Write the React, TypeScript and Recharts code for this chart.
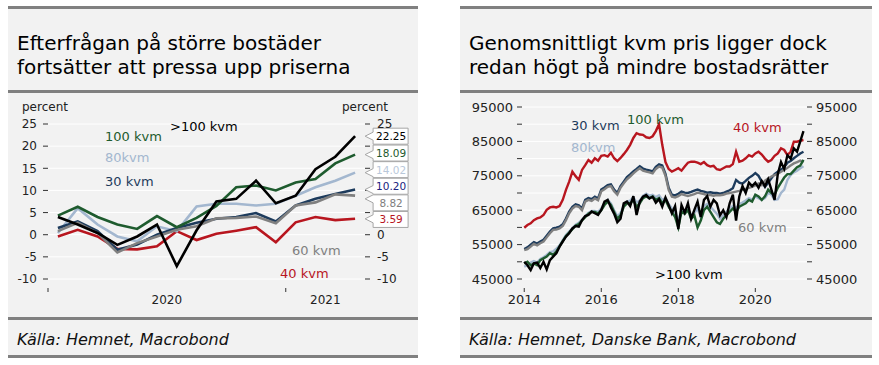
import React from 'react';
import { LineChart, Line, XAxis, YAxis, CartesianGrid, ReferenceDot } from 'recharts';

const FONT = '"DejaVu Sans", Verdana, sans-serif';

const NAVY = '#1d3b5c';
const LIGHT = '#a3b7cf';
const GREEN = '#1e5b2e';
const BLACK = '#000000';
const GRAY = '#808080';
const RED = '#b8161f';

// ---- vänster: årlig förändring, procent (jan 2020 - apr 2021)
const leftMonths = [
  '2020-01', '2020-02', '2020-03', '2020-04', '2020-05', '2020-06', '2020-07', '2020-08',
  '2020-09', '2020-10', '2020-11', '2020-12', '2021-01', '2021-02', '2021-03', '2021-04',
];
const yoy30 = [1.5, 3.0, 0.8, -3.4, -2.2, 0.0, 1.5, 2.7, 3.6, 4.0, 4.9, 3.0, 6.6, 8.1, 9.2, 10.2];
const yoy40 = [-0.4, 1.1, -0.4, -3.2, -3.3, -2.6, 0.8, -1.2, 0.2, 0.9, 1.7, -1.7, 2.8, 4.0, 3.3, 3.59];
const yoy60 = [0.8, 2.7, 0.4, -4.0, -1.9, -0.4, 1.1, 1.9, 3.7, 3.8, 4.1, 2.6, 6.6, 7.3, 9.1, 8.82];
const yoy80 = [0.4, 6.0, 2.3, -0.4, -1.5, 1.9, 0.8, 6.4, 7.0, 7.0, 6.6, 7.0, 8.8, 10.7, 12.2, 14.02];
const yoy100 = [4.3, 6.3, 4.0, 2.3, 1.3, 4.2, 1.7, 3.8, 6.5, 10.7, 11.1, 10.0, 11.8, 12.6, 16.1, 18.09];
const yoyOver100 = [4.0, 2.3, 0.4, -2.3, -0.4, 2.3, -7.1, 1.0, 7.5, 8.1, 12.2, 7.1, 8.8, 14.8, 17.6, 22.25];
const leftYTicks = [-10, -5, 0, 5, 10, 15, 20, 25];
const leftYearBreaks = [-0.5, 11.5];
const leftYearLabelPos = [5.5, 13.5];
const leftYearLabels = ['2020', '2021'];

// ---- höger: kr per kvm, månadsdata jan 2014 - apr 2021
const price40 = [
  59900, 60700, 61200, 62100, 62600, 62900, 63600, 65100, 65800, 66000, 65800, 66200,
  68000, 70900, 73300, 76200, 74900, 73800, 76700, 78100, 79600, 78800, 80100, 79400,
  80800, 81000, 80600, 81700, 80100, 79300, 80200, 81300, 82500, 84000, 86000, 87400,
  87000, 86900, 86200, 86000, 86500, 88000, 90000, 84000, 79000, 77000, 76200, 76700,
  77200, 76500, 77700, 78800, 79100, 79100, 78800, 78400, 79000, 78100, 77700, 77900,
  76900, 76700, 77200, 77700, 77700, 78400, 82000, 79100, 79400, 80100, 81000, 80600,
  81500, 82000, 81200, 80000, 79100, 79600, 80800, 81500, 83000, 82500, 81000, 82000,
  84900, 84900, 85200, 85400,
];
const price30 = [
  53700, 54200, 55000, 55700, 55300, 55900, 56400, 57600, 58800, 59700, 59900, 60200,
  60900, 62600, 64600, 66000, 66700, 66400, 65500, 68000, 68500, 68200, 68900, 68400,
  71000, 71600, 72300, 72500, 71000, 70000, 72000, 73300, 74600, 75400, 76300, 77000,
  77800, 77100, 76800, 76600, 76300, 77600, 78300, 78000, 75600, 71500, 69500, 69300,
  69800, 70400, 70100, 70000, 70300, 70700, 71000, 70600, 70400, 70100, 70200, 70000,
  70000, 69800, 70000, 70400, 70800, 71400, 73800, 73000, 72700, 73500, 74400, 75000,
  75800, 75000, 73300, 71800, 73000, 74300, 75500, 76200, 76800, 77500, 78800, 79300,
  80100, 80800, 81500, 82000,
];
const price60 = [
  53400, 53700, 54400, 55200, 54800, 55400, 55900, 57100, 58300, 59300, 59400, 59700,
  60400, 62100, 64100, 65500, 66200, 66000, 65000, 67500, 68000, 67700, 68400, 67900,
  70500, 71100, 71800, 72000, 70500, 69500, 71500, 72800, 74000, 74800, 75700, 76500,
  77200, 76500, 76200, 76000, 75700, 77000, 77700, 77400, 75000, 70900, 68900, 68700,
  69100, 69700, 69400, 69100, 69400, 69700, 70100, 69900, 69700, 69400, 69400, 69200,
  69400, 69300, 69500, 69800, 70000, 70200, 70400, 70600, 70900, 71200, 71500, 71800,
  72200, 72800, 72300, 73600, 74200, 74800, 75200, 75600, 76200, 76700, 77300, 78000,
  78600, 79000, 79400, 79000,
];
const price80 = [
  48600, 49000, 49800, 50200, 49800, 50800, 51300, 52000, 52800, 53000, 53800, 54800,
  56300, 57800, 58800, 59800, 60800, 61300, 62300, 63300, 64200, 64800, 64800, 64500,
  65500, 67000, 68000, 67000, 65000, 63200, 64200, 66500, 67500, 67800, 68800, 67200,
  67800, 69200, 69800, 69200, 69500, 68800, 69300, 68000, 68500, 66800, 65500, 64500,
  62000, 65000, 64800, 65500, 63500, 64200, 65500, 63000, 66200, 66800, 66000, 65000,
  64000, 62500, 63500, 64500, 65500, 66200, 65500, 66800, 67200, 67800, 68500, 68000,
  69000, 68500, 68000, 68500, 70000, 69500, 68000, 68200, 70000, 71000, 73800, 75200,
  76000, 76500, 77200, 77800,
];
const price100 = [
  49500, 50000, 49000, 49500, 49000, 50500, 51000, 51500, 52500, 52000, 53000, 54500,
  56000, 57500, 58500, 59500, 60500, 61000, 62000, 63000, 64000, 64500, 64500, 64000,
  65000, 66500, 67500, 66500, 64500, 62500, 63500, 66000, 67000, 67000, 68000, 66000,
  67000, 68500, 69000, 68500, 69000, 68000, 68500, 67000, 68000, 66000, 64500, 63000,
  60000, 64500, 64000, 65000, 62500, 63500, 60000, 62000, 65000, 66000, 64500, 63000,
  61500, 61000, 62500, 63500, 64500, 65500, 64500, 66000, 66500, 67000, 68000, 67500,
  69500, 69000, 68000, 69000, 71000, 70000, 69500, 71500, 73000, 74500, 75500, 75500,
  76500, 77500, 78000, 79600,
];
const priceOver100 = [
  50000, 49000, 47600, 49600, 49800, 48200, 50000, 47800, 50500, 51500, 52500, 54400,
  55900, 57300, 58300, 59700, 60400, 60200, 62100, 63300, 63600, 64600, 64100, 63600,
  65100, 67500, 68000, 65800, 64000, 61500, 62500, 67000, 67500, 66200, 69100, 63600,
  67500, 68900, 69400, 68400, 68900, 67200, 68200, 66000, 68700, 66500, 64100, 66200,
  59500, 66500, 64300, 67000, 62500, 65100, 67500, 63000, 68000, 69100, 66000, 68000,
  67000, 63500, 65000, 63000, 67000, 69500, 62000, 69000, 72000, 70000, 73000, 72000,
  73000, 71500, 73500, 72000, 74000, 71000, 68000, 75500, 79000, 77000, 81000, 80000,
  83000, 82000, 85000, 88000,
];
const rightYTicks = [45000, 50000, 55000, 60000, 65000, 70000, 75000, 80000, 85000, 90000, 95000];
const rightYearTicks = [0, 24, 48, 72];
const rightYearLabels = ['2014', '2016', '2018', '2020'];

const leftRows = leftMonths.map((m, i) => ({
  i, month: m,
  k30: yoy30[i], k40: yoy40[i], k60: yoy60[i], k80: yoy80[i], k100: yoy100[i], kOver: yoyOver100[i],
}));
const rightRows = price40.map((_, i) => ({
  i,
  k30: price30[i], k40: price40[i], k60: price60[i], k80: price80[i], k100: price100[i], kOver: priceOver100[i],
}));

// ritordning: underst först; den översta kopplas till högeraxeln (samma skala)
const leftSeries = [
  { key: 'k40', color: RED, axis: 0 },
  { key: 'k80', color: LIGHT, axis: 0 },
  { key: 'k30', color: NAVY, axis: 0 },
  { key: 'k60', color: GRAY, axis: 0 },
  { key: 'k100', color: GREEN, axis: 0 },
  { key: 'kOver', color: BLACK, axis: 'r' },
];
const rightSeries = [
  { key: 'k40', color: RED, axis: 0 },
  { key: 'k30', color: NAVY, axis: 0 },
  { key: 'k60', color: GRAY, axis: 0 },
  { key: 'k80', color: LIGHT, axis: 0 },
  { key: 'k100', color: GREEN, axis: 0 },
  { key: 'kOver', color: BLACK, axis: 'r' },
];

// värdeetiketter längst till höger, sorterade uppifrån
const tags = [
  { value: yoyOver100[15], color: BLACK },
  { value: yoy100[15], color: GREEN },
  { value: yoy80[15], color: '#b9c8da' },
  { value: yoy30[15], color: '#1a237e' },
  { value: yoy60[15], color: GRAY },
  { value: yoy40[15], color: RED },
];

const LEFT_PLOT_H = 155;
const PX_PER_UNIT = LEFT_PLOT_H / 35;
const TAG_H = 16.6;
const TAG_GAP = TAG_H / PX_PER_UNIT;

// sprid etiketterna så att de inte överlappar (grupper centreras kring sitt medel)
function spreadTags(values: number[], gap: number) {
  let groups = values.map((v) => ({ vals: [v] }));
  const center = (g: { vals: number[] }) => g.vals.reduce((a, b) => a + b, 0) / g.vals.length;
  let changed = true;
  while (changed) {
    changed = false;
    for (let k = 0; k < groups.length - 1; k++) {
      const a = groups[k];
      const b = groups[k + 1];
      const aBottom = center(a) - ((a.vals.length - 1) * gap) / 2;
      const bTop = center(b) + ((b.vals.length - 1) * gap) / 2;
      if (aBottom - bTop < gap) {
        groups.splice(k, 2, { vals: [...a.vals, ...b.vals] });
        changed = true;
        break;
      }
    }
  }
  const out: number[] = [];
  groups.forEach((g) => {
    const c = center(g);
    g.vals.forEach((_, j) => out.push(c + ((g.vals.length - 1) / 2 - j) * gap));
  });
  return out;
}
const tagPos = spreadTags(tags.map((t) => t.value), TAG_GAP);
const tagTop = Math.max(...tagPos) + TAG_GAP / 2;
const tagBottom = Math.min(...tagPos) - TAG_GAP / 2;
// högeraxelns siffror som ligger bakom etiketterna syns inte
const rightLabel = (v: number) => (v < tagTop && v > tagBottom ? '' : String(v));

const Tag = ({ cx, cy, value, boxValue, color }: any) => {
  const x0 = cx + 10;
  let off = (boxValue - value) * PX_PER_UNIT;
  off = Math.max(-4, Math.min(4, off));
  const ty = cy + off;
  const d = `M${x0 + 8},${cy - 8} H${x0 + 43} V${cy + 8} H${x0 + 8} V${ty + 4} L${x0},${ty} L${x0 + 8},${ty - 4} Z`;
  return (
    <g>
      <path d={d} fill="#ffffff" stroke="#a6a6a6" strokeWidth={1} />
      <text x={x0 + 26} y={cy + 4} textAnchor="middle" fontSize={10.5} fontFamily={FONT} fill={color}>
        {value.toFixed(2)}
      </text>
    </g>
  );
};

const LeftXTick = ({ x, y, payload }: any) => {
  const v = payload.value;
  if (leftYearBreaks.includes(v)) {
    return <line x1={x} x2={x} y1={y + 9} y2={y + 13} stroke="#333" />;
  }
  const li = leftYearLabelPos.indexOf(v);
  return (
    <text x={x} y={y + 25} textAnchor="middle" fontSize={12} fontFamily={FONT} fill="#222">
      {leftYearLabels[li]}
    </text>
  );
};

const RightXTick = ({ x, y, payload }: any) => {
  const li = rightYearTicks.indexOf(payload.value);
  return (
    <g>
      <line x1={x} x2={x} y1={y + 9} y2={y + 13} stroke="#333" />
      <text x={x} y={y + 25} textAnchor="middle" fontSize={13} fontFamily={FONT} fill="#222">
        {rightYearLabels[li]}
      </text>
    </g>
  );
};

const SeriesLabel = ({ left, y, color, text }: any) => (
  <div style={{ position: 'absolute', left, top: y - 9, lineHeight: '18px', fontSize: 13, color, whiteSpace: 'nowrap' }}>
    {text}
  </div>
);

const Panel = ({ left, width, title, source }: any) => (
  <div
    style={{
      position: 'absolute', left, top: 6, width, height: 352, boxSizing: 'border-box',
      background: '#f2f2f2', borderTop: '3px solid #808080', borderBottom: '3px solid #808080',
    }}
  >
    <div style={{ position: 'absolute', left: 9, top: 22, fontSize: 20, lineHeight: '24px', color: '#000', whiteSpace: 'nowrap' }}>
      {title[0]}<br />{title[1]}
    </div>
    <div style={{ position: 'absolute', left: 0, right: 0, top: 81, height: 3, background: '#808080' }} />
    <div style={{ position: 'absolute', left: 0, right: 0, top: 308, height: 3, background: '#808080' }} />
    <div style={{ position: 'absolute', left: 9, top: 321, fontSize: 16, lineHeight: '20px', fontStyle: 'italic', color: '#111', whiteSpace: 'nowrap' }}>
      {source}
    </div>
  </div>
);

const axisTick = (size: number) => ({ fontSize: size, fontFamily: FONT, fill: '#222' });

export default function App() {
  return (
    <div style={{ position: 'absolute', left: 0, top: 0, width: 879, height: 365, background: '#fff', fontFamily: FONT, overflow: 'hidden' }}>
      <Panel
        left={8}
        width={410}
        title={['Efterfrågan på större bostäder', 'fortsätter att pressa upp priserna']}
        source="Källa: Hemnet, Macrobond"
      />
      <Panel
        left={460}
        width={412}
        title={['Genomsnittligt kvm pris ligger dock', 'redan högt på mindre bostadsrätter']}
        source="Källa: Hemnet, Danske Bank, Macrobond"
      />

      {/* vänster diagram */}
      <div style={{ position: 'absolute', left: 0, top: 95 }}>
        <LineChart width={420} height={230} data={leftRows} margin={{ top: 29, right: 10, bottom: 16, left: 8 }}>
          <CartesianGrid horizontal vertical={false} stroke="#ffffff" strokeWidth={1} />
          <XAxis
            dataKey="i"
            type="number"
            domain={[-0.5, 15.5]}
            ticks={[...leftYearBreaks, ...leftYearLabelPos]}
            interval={0}
            axisLine={false}
            tickLine={false}
            tickSize={0}
            tickMargin={0}
            height={30}
            tick={<LeftXTick />}
          />
          <YAxis
            domain={[-10, 25]}
            ticks={leftYTicks}
            interval={0}
            width={40}
            axisLine={false}
            tickSize={5}
            tickMargin={6}
            tickLine={{ stroke: '#333' }}
            tick={axisTick(12)}
          />
          <YAxis
            yAxisId="r"
            orientation="right"
            domain={[-10, 25]}
            ticks={leftYTicks}
            interval={0}
            width={45}
            axisLine={false}
            tickSize={5}
            tickMargin={7}
            tickLine={{ stroke: '#333' }}
            tick={axisTick(12)}
            tickFormatter={rightLabel}
          />
          {leftSeries.map((s) => (
            <Line
              key={s.key}
              yAxisId={s.axis}
              dataKey={s.key}
              type="linear"
              stroke={s.color}
              strokeWidth={2.6}
              dot={false}
              isAnimationActive={false}
            />
          ))}
          {tags.map((t, k) => (
            <ReferenceDot
              key={k}
              x={15}
              y={tagPos[k]}
              r={0}
              ifOverflow="visible"
              shape={(p: any) => <Tag {...p} value={t.value} boxValue={tagPos[k]} color={t.color} />}
            />
          ))}
        </LineChart>
      </div>

      {/* höger diagram */}
      <div style={{ position: 'absolute', left: 440, top: 95 }}>
        <LineChart width={439} height={230} data={rightRows} margin={{ top: 12, right: 10, bottom: 16, left: 22 }}>
          <CartesianGrid horizontal vertical={false} stroke="#ffffff" strokeWidth={1} />
          <XAxis
            dataKey="i"
            type="number"
            domain={[-0.7, 88.1]}
            ticks={rightYearTicks}
            interval={0}
            axisLine={false}
            tickLine={false}
            tickSize={0}
            tickMargin={0}
            height={30}
            tick={<RightXTick />}
          />
          <YAxis
            domain={[45000, 95000]}
            ticks={rightYTicks}
            interval={0}
            width={60}
            axisLine={false}
            tickSize={5}
            tickMargin={4}
            tickLine={{ stroke: '#333' }}
            tick={axisTick(13)}
            tickFormatter={(v: number) => (v % 10000 === 5000 ? String(v) : '')}
          />
          <YAxis
            yAxisId="r"
            orientation="right"
            domain={[45000, 95000]}
            ticks={rightYTicks}
            interval={0}
            width={62}
            axisLine={false}
            tickSize={5}
            tickMargin={4}
            tickLine={{ stroke: '#333' }}
            tick={axisTick(13)}
            tickFormatter={(v: number) => (v % 10000 === 5000 ? String(v) : '')}
          />
          {rightSeries.map((s) => (
            <Line
              key={s.key}
              yAxisId={s.axis}
              dataKey={s.key}
              type="linear"
              stroke={s.color}
              strokeWidth={2.4}
              dot={false}
              isAnimationActive={false}
            />
          ))}
        </LineChart>
      </div>

      {/* texter i diagrammen */}
      <div style={{ position: 'absolute', left: 22, top: 98, fontSize: 12, lineHeight: '18px', color: '#222' }}>percent</div>
      <div style={{ position: 'absolute', left: 342, top: 98, fontSize: 12, lineHeight: '18px', color: '#222' }}>percent</div>

      <SeriesLabel left={105} y={137} color={GREEN} text="100 kvm" />
      <SeriesLabel left={170} y={127} color={BLACK} text=">100 kvm" />
      <SeriesLabel left={105} y={158} color={LIGHT} text="80kvm" />
      <SeriesLabel left={105} y={182} color={NAVY} text="30 kvm" />
      <SeriesLabel left={292} y={251} color={GRAY} text="60 kvm" />
      <SeriesLabel left={280} y={274} color={RED} text="40 kvm" />

      <SeriesLabel left={571} y={126} color={NAVY} text="30 kvm" />
      <SeriesLabel left={627} y={120} color={GREEN} text="100 kvm" />
      <SeriesLabel left={571} y={148} color={LIGHT} text="80kvm" />
      <SeriesLabel left={733} y={128} color={RED} text="40 kvm" />
      <SeriesLabel left={738} y={228} color={GRAY} text="60 kvm" />
      <SeriesLabel left={655} y={275} color={BLACK} text=">100 kvm" />
    </div>
  );
}
